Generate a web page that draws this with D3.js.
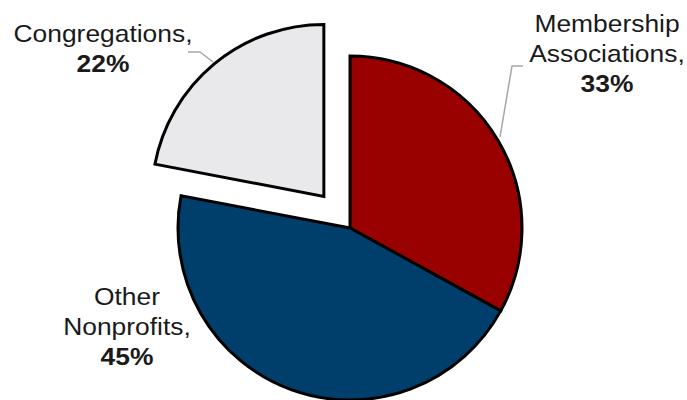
<!DOCTYPE html>
<html>
<head>
<meta charset="utf-8">
<script src="https://cdn.jsdelivr.net/npm/d3@7/dist/d3.min.js"></script>
<style>
  html, body { margin: 0; padding: 0; background: #fff; }
  svg { display: block; }
</style>
</head>
<body>
<svg id="chart" width="687" height="400"></svg>
<script>
const categories = ["Membership Associations", "Other Nonprofits", "Congregations"];
const values = [33, 45, 22];
const labelLines = [["Membership", "Associations,"], ["Other", "Nonprofits,"], ["Congregations,"]];
const percentLabels = ["33%", "45%", "22%"];
const colors = ["#990000", "#003F6B", "#E9E8EA"];
const explode = [0, 0, 41];

const svg = d3.select("#chart");
const cx = 350, cy = 228, r = 172;

const pie = d3.pie().sort(null).value(d => d)(values);
const arc = d3.arc().innerRadius(0).outerRadius(r);

const g = svg.append("g").attr("transform", `translate(${cx},${cy})`);

g.selectAll("path.slice")
  .data(pie)
  .enter().append("path")
  .attr("class", "slice")
  .attr("d", arc)
  .attr("fill", (d, i) => colors[i])
  .attr("stroke", "#000")
  .attr("stroke-width", 3)
  .attr("stroke-linejoin", "miter")
  .attr("transform", (d, i) => {
    const a = (d.startAngle + d.endAngle) / 2;
    return `translate(${explode[i] * Math.sin(a)},${-explode[i] * Math.cos(a)})`;
  });

// leader lines
const leaders = [
  [[523, 66], [512, 66], [500, 137]],
  null,
  [[188, 52], [200, 52], [213, 62]]
];
leaders.forEach(pts => {
  if (!pts) return;
  svg.append("polyline")
    .attr("points", pts.map(p => p.join(",")).join(" "))
    .attr("fill", "none")
    .attr("stroke", "#A6A6A6")
    .attr("stroke-width", 1.5);
});

// labels
const labelPos = [
  { x: 607, y: 32 },
  { x: 127, y: 305 },
  { x: 103, y: 42 }
];
const lineH = 30;
labelPos.forEach((p, i) => {
  const lg = svg.append("g").attr("transform", `translate(${p.x},0) scale(1.1,1)`);
  const lines = labelLines[i];
  lines.forEach((t, j) => {
    lg.append("text")
      .attr("x", 0).attr("y", p.y + j * lineH)
      .attr("text-anchor", "middle")
      .attr("font-family", "Liberation Sans, Arial, sans-serif")
      .attr("font-size", 24)
      .attr("fill", "#1a1a1a")
      .text(t);
  });
  lg.append("text")
    .attr("x", 0).attr("y", p.y + lines.length * lineH)
    .attr("text-anchor", "middle")
    .attr("font-family", "Liberation Sans, Arial, sans-serif")
    .attr("font-size", 24)
    .attr("font-weight", "bold")
    .attr("fill", "#1a1a1a")
    .text(percentLabels[i]);
});
</script>
</body>
</html>
